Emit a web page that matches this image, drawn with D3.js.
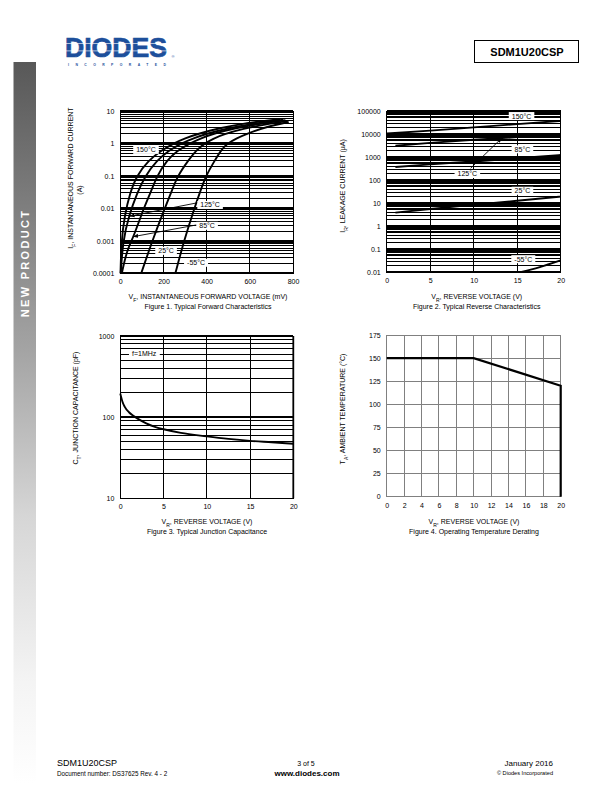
<!DOCTYPE html>
<html><head><meta charset="utf-8">
<script src="https://cdn.jsdelivr.net/npm/d3@7"></script>
<style>
body{margin:0;background:#fff}
svg{display:block}
text{font-family:"Liberation Sans",Arial,sans-serif}
</style>
</head><body>
<svg id="c" width="612" height="792"></svg>
<script>
// ---------- DATA ----------
// Figure 1: forward characteristics, [mV, A]
const fwdTemps = ["150°C", "125°C", "85°C", "25°C", "-55°C"];
const fwd150 = [[1,1e-4],[5,1e-3],[20,0.006],[45,0.03],[75,0.1],[130,0.3],[190,0.6],[245,1],[300,1.45],[362,2],[462,3],[562,4],[662,4.9],[740,5.6]];
const fwd125 = [[2,1e-4],[12,1e-3],[40,0.006],[78,0.03],[115,0.1],[169,0.3],[225,0.6],[280,1],[340,1.45],[400,2],[500,2.95],[600,3.9],[700,4.85],[755,5.4]];
const fwd85  = [[7,1e-4],[30,5e-4],[62,1.35e-3],[108,0.01],[140,0.03],[170,0.1],[215,0.3],[265,0.6],[320,1],[375,1.45],[431,2],[530,2.95],[630,3.9],[765,5.2]];
const fwd25  = [[97,1e-4],[148,1e-3],[204,0.0093],[235,0.03],[265,0.1],[315,0.3],[350,0.6],[390,1],[430,1.4],[477,1.9],[570,2.85],[670,3.85],[775,4.9]];
const fwdM55 = [[255,1e-4],[295,1e-3],[343,0.01],[368,0.03],[396,0.1],[438,0.3],[465,0.6],[495,1],[540,1.45],[585,2],[680,3.3],[780,4.6]];
const fwdLabelV = [119, 416, 402, 212, 351];
const fwdLabelI = [0.63, 0.0127, 0.0029, 0.00049, 0.00021];
const fwdArrowFrom = [[360, 0.015], [354, 0.0031]];
const fwdArrowTo = [[45, 0.0058], [62, 0.00135]];
const fwdXTicks = [0, 200, 400, 600, 800];
const fwdYTicks = [10, 1, 0.1, 0.01, 0.001, 0.0001];
const fwdYTickLabels = ["10", "1", "0.1", "0.01", "0.001", "0.0001"];

// Figure 2: reverse characteristics, [V, µA]
const rev150 = [[0,10500],[5,14000],[10,19500],[15,27000],[20,37000]];
const rev125 = [[1,3100],[5,4100],[10,5600],[15,7300],[20,9200]];
const rev85  = [[1,370],[5,480],[10,640],[15,880],[20,1220]];
const rev25  = [[1,3.8],[5,5.5],[10,8.3],[15,12.5],[20,19]];
const revM55 = [[15.5,0.01],[17.5,0.016],[20,0.032]];
const revLabelV = [15.5, 15.6, 9.27, 15.6, 15.7];
const revLabelI = [60000, 2150, 182, 34, 0.036];
const revLabelText = ["150°C", "85°C", "125°C", "25°C", "-55°C"];
const revArrowFrom = [9.65, 325];
const revArrowTo = [13.2, 6500];
const revXTicks = [0, 5, 10, 15, 20];
const revYTicks = [100000, 10000, 1000, 100, 10, 1, 0.1, 0.01];
const revYTickLabels = ["100000", "10000", "1000", "100", "10", "1", "0.1", "0.01"];

// Figure 3: junction capacitance, V and pF
const capV = [0, 0.25, 0.5, 1, 1.5, 2, 3, 4, 5, 7, 10, 12.5, 15, 17.5, 20];
const capC = [195, 155, 135, 115, 104, 96, 84, 76, 71, 64, 58, 54, 51, 49, 47];
const capXTicks = [0, 5, 10, 15, 20];
const capYTicks = [1000, 100, 10];
const capLabel = "f=1MHz";
const capLabelPos = [1.35, 600];

// Figure 4: derating
const derV = [0, 10, 20, 20];
const derT = [150, 150, 120, 0];
const derXTicks = [0, 2, 4, 6, 8, 10, 12, 14, 16, 18, 20];
const derYTicks = [0, 25, 50, 75, 100, 125, 150, 175];

// ---------- DRAW ----------
const svg = d3.select("#c");
const defs = svg.append("defs");
defs.append("marker").attr("id","arr").attr("viewBox","0 0 10 10").attr("refX",9).attr("refY",5)
  .attr("markerWidth",5).attr("markerHeight",5).attr("orient","auto-start-reverse").attr("markerUnits","userSpaceOnUse")
  .append("path").attr("d","M0,1 L10,5 L0,9 z").attr("fill","#000");
const grad = defs.append("linearGradient").attr("id","side").attr("x1",0).attr("y1",0).attr("x2",0).attr("y2",1);
[[0,"#585858"],[0.4,"#a4a4a4"],[0.63,"#d6d6d6"],[0.86,"#f4f4f4"],[1,"#ffffff"]].forEach(([o,c])=>
  grad.append("stop").attr("offset",o).attr("stop-color",c));

// side bar
svg.append("rect").attr("x",13.5).attr("y",62).attr("width",22.5).attr("height",722).attr("fill","url(#side)");
svg.append("text").attr("transform","translate(29,263) rotate(-90)").attr("text-anchor","middle")
  .attr("fill","#fff").attr("font-weight","bold").attr("font-size",11).attr("letter-spacing",2.3).text("NEW PRODUCT");

// logo
const logo = svg.append("g");
logo.append("text").attr("x",65).attr("y",56.5).attr("font-family","DejaVu Sans").attr("font-weight","bold")
  .attr("font-size",28).attr("textLength",102).attr("lengthAdjust","spacingAndGlyphs").attr("fill","#1d4f9b")
  .attr("stroke","#1d4f9b").attr("stroke-width",0.7).text("DIODES");
[43, 50.5].forEach(yy => logo.append("rect").attr("x",64).attr("y",yy).attr("width",106).attr("height",0.8).attr("fill","#fff").attr("opacity",0.8));
logo.append("text").attr("x",171.5).attr("y",58).attr("font-size",4).attr("fill","#1d4f9b").text("®");
logo.append("text").attr("x",68).attr("y",66.3).attr("font-size",3.4).attr("font-weight","bold").attr("fill","#1d4f9b")
  .attr("textLength",98).attr("lengthAdjust","spacing").text("INCORPORATED");

// part number box
svg.append("rect").attr("x",474.5).attr("y",40.5).attr("width",104).attr("height",22).attr("fill","none").attr("stroke","#000").attr("stroke-width",1);
svg.append("text").attr("x",527).attr("y",55.5).attr("text-anchor","middle").attr("font-weight","bold").attr("font-size",11).text("SDM1U20CSP");

// footer
svg.append("text").attr("x",57).attr("y",766).attr("font-size",9).text("SDM1U20CSP");
svg.append("text").attr("x",57).attr("y",775.5).attr("font-size",6.3).text("Document number: DS37625  Rev. 4 - 2");
svg.append("text").attr("x",306).attr("y",765.5).attr("text-anchor","middle").attr("font-size",7).text("3 of 5");
svg.append("text").attr("x",307).attr("y",775.5).attr("text-anchor","middle").attr("font-weight","bold").attr("font-size",8).text("www.diodes.com");
svg.append("text").attr("x",553).attr("y",766).attr("text-anchor","end").attr("font-size",8).text("January 2016");
svg.append("text").attr("x",553).attr("y",774.5).attr("text-anchor","end").attr("font-size",5.6).text("© Diodes Incorporated");

const FS = 7;
function subText(sel, parts) {
  parts.forEach(([t, s]) => {
    const ts = sel.append("tspan").text(t);
    if (s) ts.attr("font-size", FS*0.72).attr("baseline-shift","sub");
  });
  return sel;
}
function yTitle(x, y, parts) {
  const t = svg.append("text").attr("transform",`translate(${x},${y}) rotate(-90)`).attr("text-anchor","middle").attr("font-size",FS);
  subText(t, parts);
}
function xTitle(x, y, parts, caption) {
  const t = svg.append("text").attr("x",x).attr("y",y).attr("text-anchor","middle").attr("font-size",FS);
  subText(t, parts);
  svg.append("text").attr("x",x).attr("y",y+10).attr("text-anchor","middle").attr("font-size",FS).text(caption);
}
function boxLabel(g, x, y, text, anchor) {
  const grp = g.append("g");
  const r = grp.append("rect").attr("fill","#fff");
  const t = grp.append("text").attr("x",x).attr("y",y).attr("dy","0.35em").attr("text-anchor",anchor||"middle").attr("font-size",FS).text(text);
  const bb = t.node().getBBox();
  r.attr("x",bb.x-3).attr("y",bb.y-0.5).attr("width",bb.width+6).attr("height",bb.height+1);
}
function axes(g, x, y, xt, yt, ytl) {
  const ax = g.append("g").attr("transform",`translate(0,${y.range()[0]})`)
    .call(d3.axisBottom(x).tickValues(xt).tickSize(0).tickPadding(6));
  ax.select(".domain").remove();
  ax.selectAll("text").attr("font-size",FS).attr("font-family","Liberation Sans, Arial, sans-serif").attr("fill","#000");
  const ay = g.append("g").attr("transform",`translate(${x.range()[0]},0)`)
    .call(d3.axisLeft(y).tickValues(yt).tickSize(0).tickPadding(6).tickFormat((d,i)=> ytl ? ytl[i] : d));
  ay.select(".domain").remove();
  ay.selectAll("text").attr("font-size",FS).attr("font-family","Liberation Sans, Arial, sans-serif").attr("fill","#000");
}
function logHGrid(g, x, y, majW, minW) {
  y.ticks().forEach(v => {
    const maj = Math.abs(Math.log10(v) - Math.round(Math.log10(v))) < 1e-9;
    g.append("line").attr("x1",x.range()[0]).attr("x2",x.range()[1]).attr("y1",y(v)).attr("y2",y(v))
      .attr("stroke","#000").attr("stroke-width", maj ? majW : minW).attr("shape-rendering","crispEdges");
  });
}
function vGrid(g, x, y, vals, w, col) {
  vals.forEach(v => g.append("line").attr("x1",x(v)).attr("x2",x(v)).attr("y1",y.range()[0]).attr("y2",y.range()[1])
    .attr("stroke",col||"#000").attr("stroke-width",w).attr("shape-rendering","crispEdges"));
}
function frame(g, x, y, w, col) {
  g.append("rect").attr("x",x.range()[0]).attr("y",y.range()[1]).attr("width",x.range()[1]-x.range()[0])
    .attr("height",y.range()[0]-y.range()[1]).attr("fill","none").attr("stroke",col||"#000").attr("stroke-width",w)
    .attr("shape-rendering","crispEdges");
}

// ===== Figure 1 =====
{
  const g = svg.append("g");
  const x = d3.scaleLinear().domain([0,800]).range([120.3,293]);
  const y = d3.scaleLog().domain([1e-4,10]).range([273.3,111]);
  logHGrid(g, x, y, 2, 1);
  vGrid(g, x, y, [200,400,600], 1);
  frame(g, x, y, 1);
  const line = d3.line().x(d=>x(d[0])).y(d=>y(d[1])).curve(d3.curveBasis);
  [fwd150, fwd125, fwd85, fwd25, fwdM55].forEach(s =>
    g.append("path").attr("d",line(s)).attr("fill","none").attr("stroke","#000").attr("stroke-width",1.9));
  fwdArrowFrom.forEach((f,i) => g.append("line").attr("x1",x(f[0])).attr("y1",y(f[1]))
    .attr("x2",x(fwdArrowTo[i][0])).attr("y2",y(fwdArrowTo[i][1])).attr("stroke","#000").attr("stroke-width",0.9).attr("marker-end","url(#arr)"));
  fwdTemps.forEach((t,i) => boxLabel(g, x(fwdLabelV[i]), y(fwdLabelI[i]), t));
  axes(g, x, y, fwdXTicks, fwdYTicks, fwdYTickLabels);
  const t = svg.append("text").attr("transform","translate(73,178) rotate(-90)").attr("text-anchor","middle").attr("font-size",FS);
  subText(t, [["I",0],["F",1],[", INSTANTANEOUS FORWARD CURRENT",0]]);
  svg.append("text").attr("transform","translate(82,190) rotate(-90)").attr("text-anchor","middle").attr("font-size",FS).text("(A)");
  xTitle(208, 298.5, [["V",0],["F",1],[", INSTANTANEOUS FORWARD VOLTAGE (mV)",0]], "Figure 1. Typical Forward Characteristics");
}

// ===== Figure 2 =====
{
  const g = svg.append("g");
  const x = d3.scaleLinear().domain([0,20]).range([386.7,560.7]);
  const y = d3.scaleLog().domain([0.01,100000]).range([272,111]);
  logHGrid(g, x, y, 2, 1);
  vGrid(g, x, y, [5,10,15], 1);
  frame(g, x, y, 1);
  const line = d3.line().x(d=>x(d[0])).y(d=>y(d[1])).curve(d3.curveMonotoneX);
  [rev150, rev125, rev85, rev25, revM55].forEach(s =>
    g.append("path").attr("d",line(s)).attr("fill","none").attr("stroke","#000").attr("stroke-width",1.9));
  g.append("line").attr("x1",x(revArrowFrom[0])).attr("y1",y(revArrowFrom[1])).attr("x2",x(revArrowTo[0])).attr("y2",y(revArrowTo[1]))
    .attr("stroke","#000").attr("stroke-width",0.9).attr("marker-end","url(#arr)");
  revLabelText.forEach((t,i) => boxLabel(g, x(revLabelV[i]), y(revLabelI[i]), t));
  axes(g, x, y, revXTicks, revYTicks, revYTickLabels);
  yTitle(345, 186, [["I",0],["R",1],[", LEAKAGE CURRENT (µA)",0]]);
  xTitle(476.7, 298.5, [["V",0],["R",1],[", REVERSE VOLTAGE (V)",0]], "Figure 2. Typical Reverse Characteristics");
}

// ===== Figure 3 =====
{
  const g = svg.append("g");
  const x = d3.scaleLinear().domain([0,20]).range([120.3,293.3]);
  const y = d3.scaleLog().domain([10,1000]).range([498.3,336]);
  logHGrid(g, x, y, 1.5, 1);
  vGrid(g, x, y, [5,10,15], 1);
  frame(g, x, y, 1);
  g.append("line").attr("x1",x(20)).attr("x2",x(20)).attr("y1",y.range()[0]).attr("y2",y.range()[1]).attr("stroke","#000").attr("stroke-width",1.8);
  const pts = capV.map((v,i)=>[v,capC[i]]);
  const line = d3.line().x(d=>x(d[0])).y(d=>y(d[1])).curve(d3.curveMonotoneX);
  g.append("path").attr("d",line(pts)).attr("fill","none").attr("stroke","#000").attr("stroke-width",1.9);
  boxLabel(g, x(capLabelPos[0]), y(capLabelPos[1]), capLabel, "start");
  axes(g, x, y, capXTicks, capYTicks, null);
  yTitle(78, 408, [["C",0],["T",1],[", JUNCTION CAPACITANCE (pF)",0]]);
  xTitle(207, 524, [["V",0],["R",1],[", REVERSE VOLTAGE (V)",0]], "Figure 3. Typical Junction Capacitance");
}

// ===== Figure 4 =====
{
  const g = svg.append("g");
  const x = d3.scaleLinear().domain([0,20]).range([386.7,560.7]);
  const y = d3.scaleLinear().domain([0,175]).range([496.7,335]);
  derYTicks.forEach(v => g.append("line").attr("x1",x.range()[0]).attr("x2",x.range()[1]).attr("y1",y(v)).attr("y2",y(v))
    .attr("stroke","#808080").attr("stroke-width",1).attr("shape-rendering","crispEdges"));
  vGrid(g, x, y, derXTicks, 1, "#808080");
  frame(g, x, y, 1, "#808080");
  const pts = derV.map((v,i)=>[v,derT[i]]);
  g.append("path").attr("d",d3.line().x(d=>x(d[0])).y(d=>y(d[1]))(pts)).attr("fill","none").attr("stroke","#000").attr("stroke-width",2.2);
  axes(g, x, y, derXTicks, derYTicks, null);
  yTitle(345, 409, [["T",0],["A",1],[", AMBIENT TEMPERATURE (°C)",0]]);
  xTitle(474, 524, [["V",0],["R",1],[", REVERSE VOLTAGE (V)",0]], "Figure 4. Operating Temperature Derating");
}
</script>
</body></html>
